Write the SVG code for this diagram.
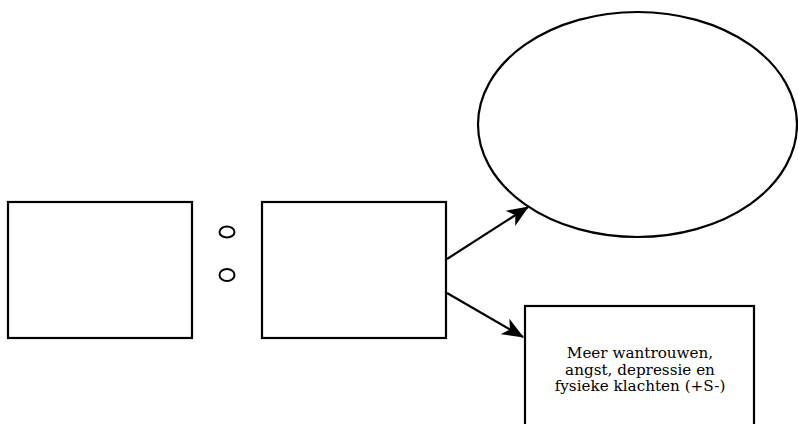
<svg xmlns="http://www.w3.org/2000/svg" width="798" height="424" viewBox="0 0 798 424">
<style>
.box{fill:#fff;stroke:#000;stroke-width:2.2}
.dot{fill:none;stroke:#000;stroke-width:2}
.edge{stroke:#000;stroke-width:2.2;fill:none}
.lbl{font-family:"DejaVu Serif","Liberation Serif",serif;font-size:15.2px;fill:#000;text-anchor:middle}
</style>
<defs>
<marker id="arr" viewBox="0 0 22 18" refX="21" refY="9" markerWidth="22" markerHeight="18" markerUnits="userSpaceOnUse" orient="auto">
<path d="M0,0 L22,9 L0,18 L6,9 Z" fill="#000"/>
</marker>
</defs>
<rect width="798" height="424" fill="#fff"/>
<g id="box-left"><rect class="box" x="8" y="202" width="184" height="136"/></g>
<g id="colon"><ellipse class="dot" cx="227" cy="232" rx="7.5" ry="5.5"/><ellipse class="dot" cx="227" cy="275" rx="7.5" ry="6"/></g>
<g id="box-middle"><rect class="box" x="262" y="202" width="184" height="136"/></g>
<g id="ellipse-top"><ellipse class="box" cx="637.5" cy="124.5" rx="159.5" ry="112.5"/></g>
<g id="box-bottom"><rect class="box" x="525" y="306" width="229" height="130"/>
<text class="lbl" x="640" y="357.5">Meer wantrouwen,</text>
<text class="lbl" x="640" y="374.5">angst, depressie en</text>
<text class="lbl" x="640" y="391">fysieke klachten (+S-)</text>
</g>
<g id="connectors">
<line class="edge" x1="447" y1="259" x2="528" y2="207" marker-end="url(#arr)"/>
<line class="edge" x1="447" y1="293" x2="523" y2="337" marker-end="url(#arr)"/>
</g>
</svg>
